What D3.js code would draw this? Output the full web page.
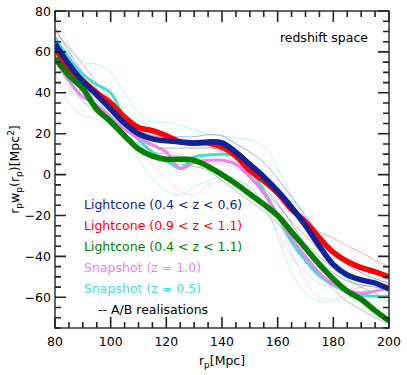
<!DOCTYPE html>
<html>
<head>
<meta charset="utf-8">
<script src="https://cdn.jsdelivr.net/npm/d3@7"></script>
<style>
  body { margin: 0; background: #fff; }
  svg text { font-family: "DejaVu Sans", sans-serif; }
</style>
</head>
<body>
<svg id="chart" width="407" height="375"></svg>
<script>
// r_p grid (Mpc)
const rp = [80, 85, 90, 95, 100, 105, 110, 115, 120, 125, 130, 135, 140, 145, 150, 155, 160, 165, 170, 175, 180, 185, 190, 195, 200];

// thick curves, r_p * w_p
const lcLow  = [64, 54, 45.5, 39, 32, 25, 20, 17.5, 16.5, 16, 15.5, 16, 15.5, 11, 5, -1, -8, -16, -25, -35, -44, -49, -51.5, -53, -56];
const lcHigh = [62, 52, 46, 40, 35, 28, 23, 21.5, 19, 16, 15.3, 15.5, 13.5, 9, 2, -3, -9, -17, -23, -31, -38, -42.5, -45.5, -47.5, -50];
const lcAll  = [57, 48.5, 42, 32, 26, 19, 12.5, 9, 7.5, 7.5, 7, 4, 0, -4.5, -9.5, -14.5, -20, -28, -36, -44, -51, -57, -61, -66.5, -71.5];
const snap10 = [56, 46, 38, 34, 28, 22, 18, 14.5, 11, 3, 6, 7, 7, 5, -1, -9, -20, -31, -40, -48, -53.5, -56.5, -58, -57, -55];
const snap05 = [67, 57, 49, 44, 40, 27, 17, 11, 7, 3, 8.5, 9.6, 10, 9, 3, -8, -20, -33, -42, -49.5, -54, -57.5, -59, -59.5, -59.5];

// thin A/B realisations
const lcLowA  = [72, 60, 50, 42, 35, 28, 22, 19, 18.5, 18.5, 18.5, 19.5, 19, 15, 11, 6, -2, -11, -20, -29, -37, -44, -48, -51, -53];
const lcLowB  = [60, 50, 42, 36, 29, 22, 17, 14, 13, 13, 13, 13, 12, 8, 1, -6, -14, -24, -34, -42, -48, -52, -54, -55, -56];
const lcHighA = [70, 62, 54, 45, 37, 30, 24, 20, 16, 15, 14, 15, 13, 9, 3, -3, -10, -17, -24, -28, -31, -35, -38, -42, -45];
const lcHighB = [58, 49, 43, 37, 32, 26, 21, 18, 17, 16, 15, 14, 11, 5, -2, -8, -15, -23, -30, -37, -45, -50, -52, -53, -54];
const lcAllA  = [55, 45, 36, 30, 24, 17, 13, 11, 10, 9, 8, 5, 1, -4, -10, -16, -22, -28, -34, -40, -46, -51, -55, -58, -62];
const lcAllB  = [60, 50, 40, 33, 27, 20, 15, 9, 6, 5, 4, 2, -3, -8, -13, -18, -24, -32, -40, -48, -56, -62, -66, -70, -73];
const snap10A = [50, 35, 29, 27, 24, 19, 12, 5, -2, -8, -10, -5, -3, -3, -6, -15, -28, -40, -48, -53, -55, -56, -55, -53, -52];
const snap10B = [62, 52, 44, 38, 32, 25, 20, 15, 12, 10, 8, 6, 5, 3, -2, -10, -22, -38, -52, -60, -61, -58, -55, -52, -49];
const snap05A = [80, 63, 55, 54, 50, 40, 30, 26, 25.5, 24, 22, 20, 19, 18, 17, 14, 3, -10, -22, -33, -42, -48, -52, -54, -55];
const snap05B = [60, 43, 36, 33, 29, 22, 8, -2, -8, -10, -6, -3, -1, -2, -6, -14, -30, -48, -58, -62, -62, -60, -57, -56, -55];

const xTicks = [80, 100, 120, 140, 160, 180, 200];
const yTicks = [-60, -40, -20, 0, 20, 40, 60, 80];

const legendItems = [
  { text: 'Lightcone (0.4 < z < 0.6)', color: '#0c239c' },
  { text: 'Lightcone (0.9 < z < 1.1)', color: '#ff0000' },
  { text: 'Lightcone (0.4 < z < 1.1)', color: '#008000' },
  { text: 'Snapshot (z = 1.0)', color: '#ee82ee' },
  { text: 'Snapshot (z = 0.5)', color: '#40e0d0' },
  { text: '-- A/B realisations', color: '#000000' }
];

const svg = d3.select('#chart');
const margin = { left: 55, top: 11, right: 18, bottom: 47 };
const W = 407, H = 375;
const x = d3.scaleLinear().domain([80, 200]).range([margin.left, W - margin.right]);
const y = d3.scaleLinear().domain([-75, 80]).range([H - margin.bottom, margin.top]);
const x0 = x(80), x1 = x(200), y0 = y(-75), y1 = y(80);

svg.append('defs').append('clipPath').attr('id', 'plotclip')
  .append('rect')
  .attr('x', x0).attr('y', y1)
  .attr('width', x1 - x0).attr('height', y0 - y1);

const line = d3.line()
  .x((d, i) => x(rp[i]))
  .y(d => y(d))
  .curve(d3.curveCatmullRom.alpha(0.5));

const plot = svg.append('g').attr('clip-path', 'url(#plotclip)');

// thin realisations
const thin = [
  [lcLowA, '#0c239c'], [lcLowB, '#0c239c'],
  [lcHighA, '#ff0000'], [lcHighB, '#ff0000'],
  [lcAllA, '#008000'], [lcAllB, '#008000'],
  [snap10A, '#ee82ee'], [snap10B, '#ee82ee'],
  [snap05A, '#40e0d0'], [snap05B, '#40e0d0']
];
thin.forEach(([vals, c]) => {
  plot.append('path').attr('d', line(vals))
    .attr('fill', 'none').attr('stroke', c)
    .attr('stroke-width', 0.8).attr('stroke-opacity', 0.45);
});

// thick curves
const thick = [
  [snap05, '#40e0d0', 3],
  [snap10, '#ee82ee', 3],
  [lcHigh, '#ff0000', 5.5],
  [lcLow, '#0c239c', 5.5],
  [lcAll, '#008000', 5.5]
];
thick.forEach(([vals, c, w]) => {
  plot.append('path').attr('d', line(vals))
    .attr('fill', 'none').attr('stroke', c)
    .attr('stroke-width', w).attr('stroke-linejoin', 'round');
});

// frame
svg.append('rect')
  .attr('x', x0).attr('y', y1)
  .attr('width', x1 - x0).attr('height', y0 - y1)
  .attr('fill', 'none').attr('stroke', '#333').attr('stroke-width', 1.5);

// inward ticks on all sides, built as one path
const tickPath = d3.path();
d3.range(80, 201, 5).forEach(v => {
  const len = v % 20 === 0 ? 11 : 6;
  tickPath.moveTo(x(v), y0); tickPath.lineTo(x(v), y0 - len);
  tickPath.moveTo(x(v), y1); tickPath.lineTo(x(v), y1 + len);
});
d3.range(-75, 81, 5).forEach(v => {
  const len = v % 20 === 0 ? 11 : 6;
  tickPath.moveTo(x0, y(v)); tickPath.lineTo(x0 + len, y(v));
  tickPath.moveTo(x1, y(v)); tickPath.lineTo(x1 - len, y(v));
});
svg.append('path')
  .attr('d', tickPath.toString())
  .attr('fill', 'none')
  .attr('stroke', '#222')
  .attr('stroke-width', 1.6);

// tick labels
svg.append('g').selectAll('text').data(xTicks).enter().append('text')
  .attr('x', d => x(d)).attr('y', y0 + 18)
  .attr('text-anchor', 'middle').attr('font-size', 12.5).attr('fill', '#000')
  .text(d => d);
svg.append('g').selectAll('text').data(yTicks).enter().append('text')
  .attr('x', x0 - 4).attr('y', d => y(d) + 4.5)
  .attr('text-anchor', 'end').attr('font-size', 12.5).attr('fill', '#000')
  .text(d => d < 0 ? '\u2212' + Math.abs(d) : d);

// axis titles
const xl = svg.append('text').attr('x', 222).attr('y', 365)
  .attr('text-anchor', 'middle').attr('font-size', 12.5);
xl.append('tspan').text('r');
xl.append('tspan').attr('font-size', 9).attr('dy', 3).text('p');
xl.append('tspan').attr('dy', -3).text('[Mpc]');

const yl = svg.append('text')
  .attr('transform', 'translate(19,' + ((y1 + y0) / 2) + ') rotate(-90)')
  .attr('text-anchor', 'middle').attr('font-size', 12.5);
yl.append('tspan').text('r');
yl.append('tspan').attr('font-size', 9).attr('dy', 3).text('p');
yl.append('tspan').attr('dy', -3).text('w');
yl.append('tspan').attr('font-size', 9).attr('dy', 3).text('p');
yl.append('tspan').attr('dy', -3).text('(r');
yl.append('tspan').attr('font-size', 9).attr('dy', 3).text('p');
yl.append('tspan').attr('dy', -3).text(')[Mpc');
yl.append('tspan').attr('font-size', 9).attr('dy', -5).text('2');
yl.append('tspan').attr('dy', 5).text(']');

svg.append('text').attr('x', 368).attr('y', 42)
  .attr('text-anchor', 'end').attr('font-size', 12.5)
  .text('redshift space');

// legend
svg.append('g').selectAll('text').data(legendItems).enter().append('text')
  .attr('x', (d, i) => i === 5 ? 98 : 84)
  .attr('y', (d, i) => 209 + i * 21)
  .attr('font-size', 12.5)
  .attr('fill', d => d.color)
  .text(d => d.text);
</script>
</body>
</html>
